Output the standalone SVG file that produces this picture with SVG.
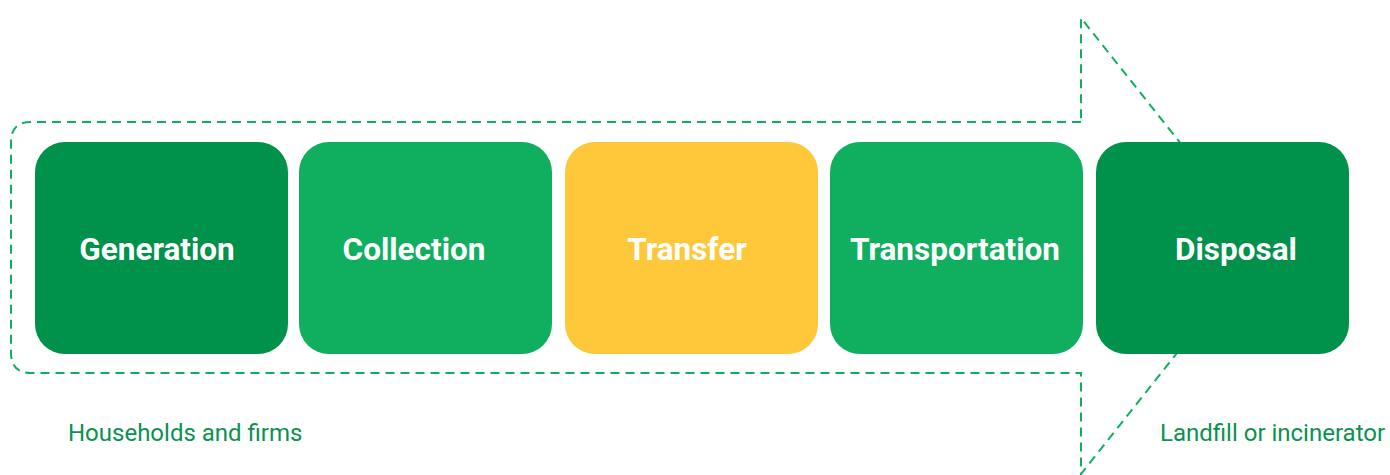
<svg xmlns="http://www.w3.org/2000/svg" width="1390" height="475" viewBox="0 0 1390 475">
  <style>
    .flow { fill: none; stroke: #10AE5F; stroke-width: 2; stroke-dasharray: 9 6; }
    .step-label { font-family: Roboto, "Liberation Sans", sans-serif; font-weight: 700; font-size: 31.5px; fill: #ffffff; text-anchor: middle; }
    .note { font-family: Roboto, "Liberation Sans", sans-serif; font-size: 24px; fill: #0C9150; }
    .dark { fill: #00914A; }
    .light { fill: #10AE5F; }
    .yellow { fill: #FEC83A; }
  </style>
  <rect width="1390" height="475" fill="#ffffff"/>

  <!-- dashed arrow outline behind the steps -->
  <g id="connectors">
    <path class="flow" d="M1081 122 H31 Q11 122 11 142 V353 Q11 373 31 373 H1081 V474 L1262 246 L1081 18 Z"/>
  </g>

  <g id="generation">
    <rect class="dark" x="35" y="142" width="253" height="212" rx="30"/>
    <text class="step-label" x="157" y="260">Generation</text>
  </g>
  <g id="collection">
    <rect class="light" x="299" y="142" width="253" height="212" rx="30"/>
    <text class="step-label" x="414" y="260">Collection</text>
  </g>
  <g id="transfer">
    <rect class="yellow" x="565" y="142" width="253" height="212" rx="30"/>
    <text class="step-label" x="687" y="260">Transfer</text>
  </g>
  <g id="transportation">
    <rect class="light" x="830" y="142" width="253" height="212" rx="30"/>
    <text class="step-label" x="955" y="260">Transportation</text>
  </g>
  <g id="disposal">
    <rect class="dark" x="1096" y="142" width="253" height="212" rx="30"/>
    <text class="step-label" x="1236" y="260">Disposal</text>
  </g>

  <text class="note" x="68" y="441">Households and firms</text>
  <text class="note" x="1160" y="441">Landfill or incinerator</text>
</svg>
